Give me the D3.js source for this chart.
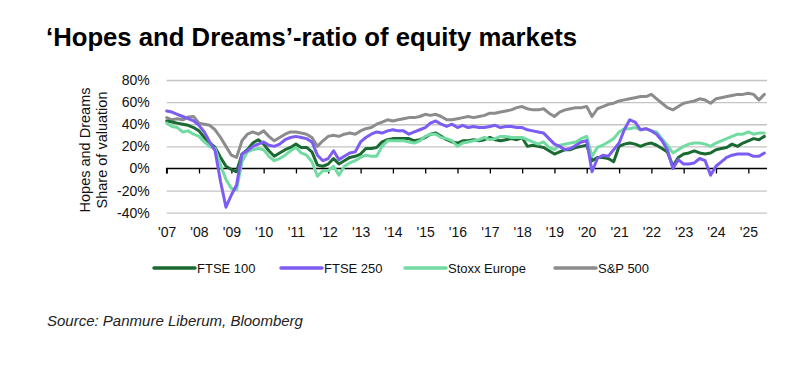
<!DOCTYPE html>
<html><head><meta charset="utf-8">
<script src="https://cdn.jsdelivr.net/npm/d3@7"></script>
<style>
body{margin:0;background:#fff;}
svg{display:block;font-family:"Liberation Sans",Arial,Helvetica,sans-serif;}
</style>
</head><body>
<svg id="chart" width="809" height="365"></svg>
<script>
// ---- Data (bi-monthly readings, Jan 2007 .. Jul 2025) ----
const seriesNames = ["FTSE 100", "FTSE 250", "Stoxx Europe", "S&P 500"];
const seriesColors = ["#1a6a32", "#7c5cf2", "#72dba2", "#8c8c8c"];
const startYear = 2007;
const stepMonths = 2;

const ftse100 = [
  43, 42, 41, 40, 39, 37,
  34, 28, 23, 19, 10, 2,
  -1, -3, 13, 17, 23, 26,
  22, 16, 11, 14, 17, 19,
  22, 19, 19, 15, 3, 2,
  4, 9, 4, 7, 10, 11,
  13, 18, 18, 19, 24, 26,
  27, 27, 27, 27, 25, 26,
  28, 31, 32, 29, 26, 24,
  23, 25, 25, 26, 25, 26,
  28, 26, 25, 26, 27, 26,
  28, 20, 21, 20, 19, 16,
  13, 15, 17, 17, 19, 20,
  21, 7, 10, 10, 9, 6,
  20, 22, 23, 22, 20, 22,
  23, 21, 18, 15, 2, 10,
  13, 14, 16, 14, 13, 14,
  17, 18, 19, 22, 20, 23,
  25, 27, 26, 29
];
const ftse250 = [
  52, 51, 49, 47, 45, 43,
  39, 33, 24, 16, -12, -35,
  -24, -15, 13, 16, 20, 22,
  24, 21, 20, 22, 26, 28,
  29, 28, 27, 24, 12, 7,
  9, 16, 8, 11, 14, 15,
  24, 28, 31, 33, 32, 34,
  35, 34, 34, 31, 33, 35,
  37, 41, 43, 40, 38, 40,
  37, 39, 37, 38, 37, 37,
  38, 39, 37, 38, 38, 37,
  37, 35, 34, 33, 32, 27,
  22, 20, 17, 18, 21, 24,
  25, -3, 9, 12, 11, 17,
  23, 35, 44, 42, 35, 36,
  34, 31, 25, 17, 0, 8,
  4, 4, 5, 9, 7, -6,
  2, 6, 10, 12, 13, 13,
  13, 11, 11, 14
];
const stoxxEurope = [
  41, 38, 37, 33, 34, 31,
  29, 24, 20, 18, 3, -10,
  -18, -19, 6, 15, 17, 18,
  17, 11, 7, 9, 12, 16,
  19, 14, 12, 6, -7, -2,
  -2, 2, -6, 2, 5, 7,
  10, 12, 11, 11, 20, 25,
  25, 25, 25, 24, 23, 25,
  29, 31, 31, 28, 27, 25,
  20, 23, 24, 25, 26, 28,
  26, 27, 29, 29, 28, 28,
  28, 26, 24, 22, 24, 19,
  17, 21, 22, 23, 24, 27,
  29, 11, 19, 21, 24, 27,
  33, 36, 36, 37, 35, 36,
  34, 33, 27, 21, 14, 17,
  20, 22, 23, 23, 22, 20,
  23, 25, 27, 29, 31, 31,
  33, 31, 32, 32
];
const sp500 = [
  46, 44, 45, 44, 46.5, 47,
  41, 40, 39, 35, 28, 20,
  12, 10, 25, 31, 33, 31,
  34, 29, 25, 28, 31, 33,
  33, 32, 31, 28, 20, 25,
  29, 30, 29, 31, 32, 31,
  34, 36, 37, 40, 42, 44,
  43, 44, 45, 46, 46, 47,
  49, 48, 49, 47, 44, 44,
  45, 46, 47, 46, 47, 48,
  50, 50, 51, 52, 53, 55,
  56, 54, 53, 53, 54, 50,
  47, 51, 53, 54, 55, 55,
  56, 47, 54, 56, 58, 59,
  61, 62, 63, 64, 65, 65,
  67, 63, 59, 55, 53, 56,
  59, 60, 61, 63, 62, 59,
  63, 64, 65, 66, 67, 67,
  68, 67, 62, 67
];
const xTickLabels = ["'07","'08","'09","'10","'11","'12","'13","'14","'15","'16","'17","'18","'19","'20","'21","'22","'23","'24","'25"];
const yTicks = [-40, -20, 0, 20, 40, 60, 80];

const titleText = "\u2018Hopes and Dreams\u2019-ratio of equity markets";
const yTitleLines = ["Hopes and Dreams", "Share of valuation"];
const sourceText = "Source: Panmure Liberum, Bloomberg";

// ---- Layout ----
const svg = d3.select("#chart");
const plot = {left: 166.7, right: 767, top: 80, bottom: 212.7};
const x = d3.scaleTime()
  .domain([new Date(2007, 0, 1), new Date(2025, 6, 31)])
  .range([plot.left, plot.right]);
const y = d3.scaleLinear().domain([-40, 80]).range([plot.bottom, plot.top]);
const allSeries = [ftse100, ftse250, stoxxEurope, sp500];
const dateOf = i => new Date(startYear, i * stepMonths, 1);
const tickDates = xTickLabels.map((_, i) => new Date(startYear + i, 0, 1));

// Title
svg.append("text").attr("x", 46).attr("y", 46)
  .attr("font-size", 25.7).attr("font-weight", "bold").attr("fill", "#000")
  .text(titleText);

// Gridlines + y labels
const yAxis = d3.axisLeft(y).tickValues(yTicks)
  .tickSize(-(plot.right - plot.left)).tickPadding(17)
  .tickFormat(d => d + "%");
const gy = svg.append("g").attr("transform", `translate(${plot.left},0)`).call(yAxis);
gy.select(".domain").remove();
gy.selectAll(".tick line").attr("stroke", d => d === 0 ? "none" : "#c4c4c4").attr("stroke-width", 1.3);
gy.selectAll(".tick text").attr("font-size", 14).attr("fill", "#111").attr("font-family", null);

// Zero axis with ticks
const xAxisTicks = d3.axisBottom(x).tickValues(tickDates).tickSize(5).tickFormat("");
const gx0 = svg.append("g").attr("transform", `translate(0,${y(0)})`).call(xAxisTicks);
gx0.select(".domain").attr("stroke", "#000").attr("stroke-width", 1.5)
  .attr("d", `M${plot.left},5V0H${plot.right}`);
gx0.selectAll(".tick line").attr("stroke", "#000").attr("stroke-width", 1.3);

// X labels
const xAxisLabels = d3.axisBottom(x).tickValues(tickDates).tickSize(0).tickPadding(0)
  .tickFormat((d, i) => xTickLabels[i]);
const gxl = svg.append("g").attr("transform", `translate(0,227)`).call(xAxisLabels);
gxl.select(".domain").remove();
gxl.selectAll(".tick text").attr("font-size", 14).attr("fill", "#111").attr("font-family", null);

// Lines
const line = d3.line().x((d, i) => x(dateOf(i))).y(d => y(d));
const drawOrder = [3, 0, 2, 1];
drawOrder.forEach(k => {
  svg.append("path").datum(allSeries[k])
    .attr("fill", "none").attr("stroke", seriesColors[k])
    .attr("stroke-width", 3).attr("stroke-linejoin", "round").attr("stroke-linecap", "round")
    .attr("d", line);
});

// Y title
const yt = svg.append("g").attr("transform", "translate(90,150) rotate(-90)");
yTitleLines.forEach((t, i) => {
  yt.append("text").attr("x", 0).attr("y", i * 17).attr("text-anchor", "middle")
    .attr("font-size", 14.5).attr("fill", "#111").text(t);
});

// Legend
const legendX = [154, 281, 405, 555];
const legendY = 268;
seriesNames.forEach((n, k) => {
  svg.append("line").attr("x1", legendX[k]).attr("x2", legendX[k] + 41)
    .attr("y1", legendY).attr("y2", legendY)
    .attr("stroke", seriesColors[k]).attr("stroke-width", 3.5).attr("stroke-linecap", "round");
  svg.append("text").attr("x", legendX[k] + 43).attr("y", legendY + 4.6)
    .attr("font-size", 13).attr("fill", "#111").text(n);
});

// Source
svg.append("text").attr("x", 47).attr("y", 326)
  .attr("font-size", 15).attr("font-style", "italic").attr("fill", "#222")
  .text(sourceText);
</script>
</body></html>
